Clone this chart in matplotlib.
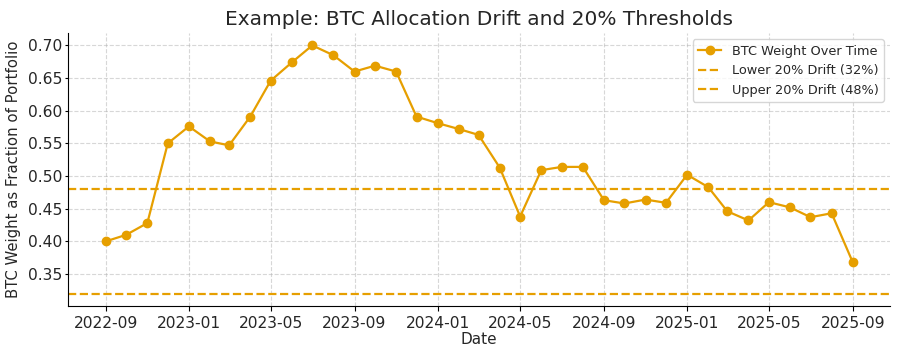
import numpy as np
import pandas as pd
import matplotlib
matplotlib.use("Agg")
import matplotlib.pyplot as plt
import matplotlib.dates as mdates
from matplotlib.ticker import MultipleLocator, FormatStrFormatter

# monthly BTC weight
months = pd.date_range("2022-09-01", "2025-09-01", freq="MS")
btc_weight = [
    0.400, 0.410, 0.428, 0.550, 0.576, 0.553, 0.547, 0.591, 0.646, 0.674,
    0.700, 0.685, 0.660, 0.669, 0.660, 0.591, 0.581, 0.572, 0.563, 0.513,
    0.438, 0.509, 0.514, 0.514, 0.463, 0.458, 0.464, 0.459, 0.502, 0.483,
    0.446, 0.432, 0.460, 0.452, 0.437, 0.443, 0.368,
]
lower_drift = 0.32
upper_drift = 0.48

color = "#E69F00"
text_color = "#262626"

fig, ax = plt.subplots(figsize=(9, 3.55), dpi=100)

ax.plot(months, btc_weight, marker="o", markersize=6, linewidth=1.6,
        color=color, label="BTC Weight Over Time")
ax.axhline(lower_drift, linestyle="--", linewidth=1.6, color=color,
           label="Lower 20% Drift (32%)")
ax.axhline(upper_drift, linestyle="--", linewidth=1.6, color=color,
           label="Upper 20% Drift (48%)")

ax.xaxis.set_major_locator(mdates.MonthLocator(bymonth=[1, 5, 9]))
ax.xaxis.set_major_formatter(mdates.DateFormatter("%Y-%m"))
ax.yaxis.set_major_locator(MultipleLocator(0.05))
ax.yaxis.set_major_formatter(FormatStrFormatter("%.2f"))

ax.set_title("Example: BTC Allocation Drift and 20% Thresholds",
             fontsize=14.5, color=text_color)
ax.set_xlabel("Date", fontsize=11, labelpad=1, color=text_color)
ax.set_ylabel("BTC Weight as Fraction of Portfolio", fontsize=10.7,
              color=text_color, labelpad=5)
ax.tick_params(labelsize=11.2, labelcolor=text_color)
ax.tick_params(axis="y", length=2.5, pad=2)
ax.grid(True, linestyle="--", alpha=0.5)
for side in ["top", "right"]:
    ax.spines[side].set_visible(False)
leg = ax.legend(loc="upper right", fontsize=9.3, handlelength=1.8)
for t in leg.get_texts():
    t.set_color(text_color)

fig.subplots_adjust(left=0.076, right=0.989, top=0.907, bottom=0.138)
fig.savefig("out.png", dpi=100)
